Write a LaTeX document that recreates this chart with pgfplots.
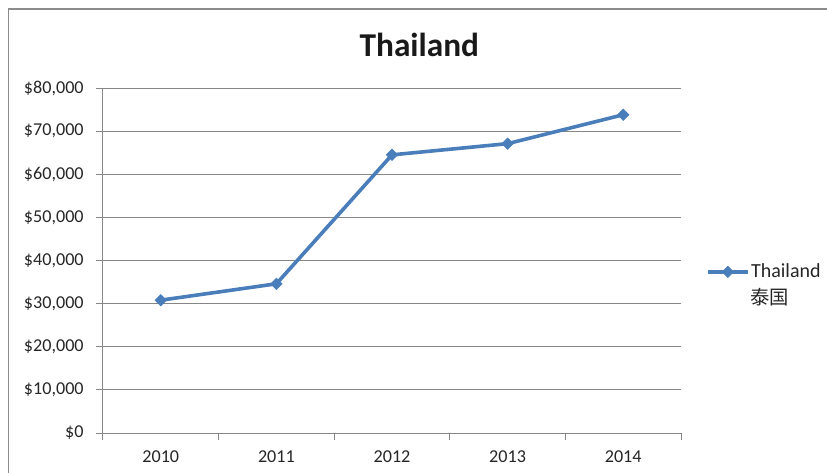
\documentclass[border=0pt]{standalone}
\usepackage{pgfplots}
\pgfplotsset{compat=1.18}
\usepackage{fontspec}
\setmainfont{Carlito}
\newfontfamily\cjk{Noto Sans CJK SC}
\definecolor{serblue}{HTML}{4A7EBB}
\definecolor{gridgray}{HTML}{868686}
\definecolor{framegray}{HTML}{8C8C8C}
\begin{document}
\begin{tikzpicture}
\useasboundingbox (0,0) rectangle (620.25pt,354pt);
\draw[framegray, line width=0.9pt] (6.375pt,-10pt) -- (6.375pt,347.25pt) -- (640pt,347.25pt);
\node[font=\fontsize{25}{30}\selectfont\bfseries, text=black!90] at (314.5pt,320.2pt) {Thailand};
\begin{axis}[
  at={(77.25pt,29.25pt)}, anchor=south west,
  width=433.5pt, height=258.75pt, scale only axis,
  xmin=-0.5, xmax=4.5, ymin=0, ymax=80000,
  scaled y ticks=false,
  xtick={0,1,2,3,4},
  xticklabels={2010,2011,2012,2013,2014},
  minor xtick={-0.5,0.5,1.5,2.5,3.5,4.5},
  ytick={0,10000,20000,30000,40000,50000,60000,70000,80000},
  yticklabels={\$0,\$10{,}000,\$20{,}000,\$30{,}000,\$40{,}000,\$50{,}000,\$60{,}000,\$70{,}000,\$80{,}000},
  ymajorgrids,
  grid style={gridgray, line width=0.75pt},
  axis line style={gridgray, line width=0.75pt},
  axis x line*=bottom, axis y line*=left,
  x axis line style={-}, y axis line style={-},
  major x tick style={draw=none},
  minor x tick style={gridgray, line width=0.75pt},
  major y tick style={gridgray, line width=0.75pt},
  tick align=outside,
  major tick length=5pt, minor tick length=5pt,
  xticklabel style={font=\fontsize{13.6}{16}\selectfont, text=black!85, yshift=-5pt},
  yticklabel style={font=\fontsize{13.6}{16}\selectfont, text=black!85, xshift=-6pt},
  clip=false,
  legend style={at={(axis description cs:1.043,0.467)}, anchor=west, draw=none, fill=none, inner sep=0pt, font=\fontsize{15}{18}\selectfont, text=black!85, nodes={inner sep=1pt}},
  legend image code/.code={\draw[#1, mark repeat=2, mark phase=2] plot coordinates {(0pt,0pt) (15pt,0pt) (30pt,0pt)};},
]
\addplot[serblue, line width=2.7pt, mark=square*, mark size=3pt, mark options={rotate=45, solid, line width=0.5pt}]
  coordinates {(0,30800) (1,34600) (2,64500) (3,67100) (4,73800)};
\addlegendentry{Thailand}
\end{axis}
\node[anchor=west, font=\cjk\fontsize{14.5}{17}\selectfont, text=black!85, inner sep=0pt] at (562.5pt,131.25pt) {泰国};
\end{tikzpicture}
\end{document}
